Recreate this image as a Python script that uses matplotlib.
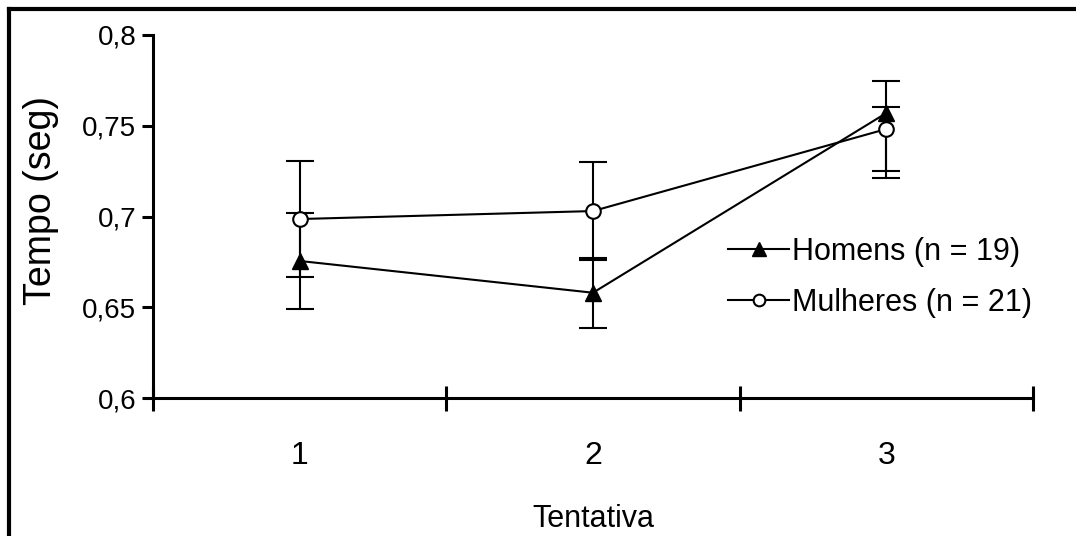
import matplotlib.pyplot as plt
import matplotlib.lines as mlines
from matplotlib.ticker import FixedLocator, FuncFormatter

plt.rcParams['font.family'] = ['Liberation Sans', 'DejaVu Sans']

tentativas = [1, 2, 3]
tick_labels = ['1', '2', '3']

homens = [0.6755, 0.658, 0.757]
homens_err_low = [0.0264, 0.0193, 0.0358]
homens_err_high = [0.0264, 0.0193, 0.0176]

mulheres = [0.6986, 0.703, 0.7482]
mulheres_err_low = [0.032, 0.027, 0.0231]
mulheres_err_high = [0.032, 0.027, 0.0121]

fig = plt.figure(figsize=(10.76, 5.36), dpi=100)
ax = fig.add_axes([153/1076, 1-398/536, 880/1076, 363/536])

ax.errorbar(tentativas, homens, yerr=[homens_err_low, homens_err_high],
            color='black', lw=1.5, marker='^', ms=12, mfc='black', mec='black',
            ecolor='black', elinewidth=1.5, capsize=10, capthick=1.5,
            label='Homens (n = 19)', zorder=3)
ax.errorbar(tentativas, mulheres, yerr=[mulheres_err_low, mulheres_err_high],
            color='black', lw=1.5, marker='o', ms=10.5, mfc='white', mec='black', mew=1.5,
            ecolor='black', elinewidth=1.5, capsize=10, capthick=1.5,
            label='Mulheres (n = 21)', zorder=4)

ax.set_xlim(0.5, 3.5)
ax.set_ylim(0.6, 0.8)

# y axis
ax.set_yticks([0.6, 0.65, 0.7, 0.75, 0.8])
ax.yaxis.set_major_formatter(FuncFormatter(lambda v, p: ('%g' % round(v, 2)).replace('.', ',')))
ax.tick_params(axis='y', direction='out', length=8, width=2.2, labelsize=20, pad=4)

# x axis: crossing ticks between categories, labels at centres
ax.set_xticks([0.5, 1.5, 2.5, 3.5])
ax.set_xticklabels([])
ax.xaxis.set_minor_locator(FixedLocator(tentativas))
ax.set_xticklabels(tick_labels, minor=True)
ax.tick_params(axis='x', which='major', direction='inout', length=18, width=2.2)
ax.tick_params(axis='x', which='minor', length=0, labelsize=23, pad=31)

for s in ['top', 'right']:
    ax.spines[s].set_visible(False)
for s in ['left', 'bottom']:
    ax.spines[s].set_linewidth(2.2)

ax.set_xlabel('Tentativa', fontsize=22, labelpad=24)
ax.set_ylabel('Tempo (seg)', fontsize=27)
ax.yaxis.set_label_coords(-0.107, 0.545)

handles, labels = ax.get_legend_handles_labels()
handles = [h[0] for h in handles]
leg = ax.legend(handles, labels, loc='center left', bbox_to_anchor=(0.636, 0.333),
                frameon=False, fontsize=22, handlelength=2.0, handletextpad=0.1,
                labelspacing=0.68, borderpad=0, markerscale=0.8)

# figure border (top and left visible)
fig.add_artist(mlines.Line2D([9/1076, 1.0], [1-9/536, 1-9/536], color='black', lw=3))
fig.add_artist(mlines.Line2D([9/1076, 9/1076], [0, 1-9/536], color='black', lw=3))

fig.savefig('out.png', dpi=100)
